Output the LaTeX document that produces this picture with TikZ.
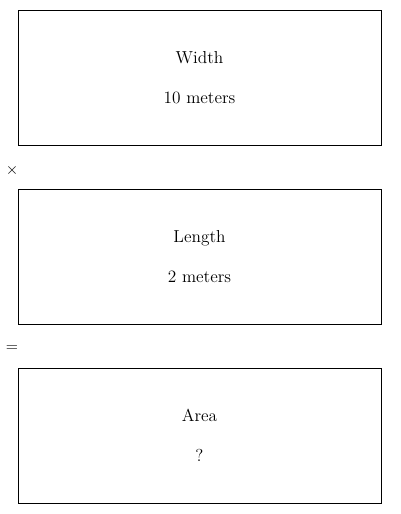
\documentclass[tikz,border=0pt]{standalone}
\usepackage{tikz}
\usetikzlibrary{positioning}

\begin{document}
\begin{tikzpicture}[x=0.75pt, y=-0.75pt,
  factorbox/.style={draw, line width=0.75pt, minimum width=272.25pt, minimum height=101.25pt, inner sep=0pt, align=center, font=\fontsize{13}{15.6}\selectfont},
  opsign/.style={inner sep=0pt, font=\fontsize{12}{14.5}\selectfont}]
\useasboundingbox (0,0) rectangle (400,514);
\node[factorbox] (width) at (199.5,77.5) {Width\\[14.4pt]10 meters};
\node[opsign] (times) at (12,170) {$\times$};
\node[factorbox] (length) at (199.5,256.5) {Length\\[14.4pt]2 meters};
\node[opsign] (equals) at (12,349) {=};
\node[factorbox] (area) at (199.5,435.5) {Area\\[14.4pt]?};
\end{tikzpicture}
\end{document}
